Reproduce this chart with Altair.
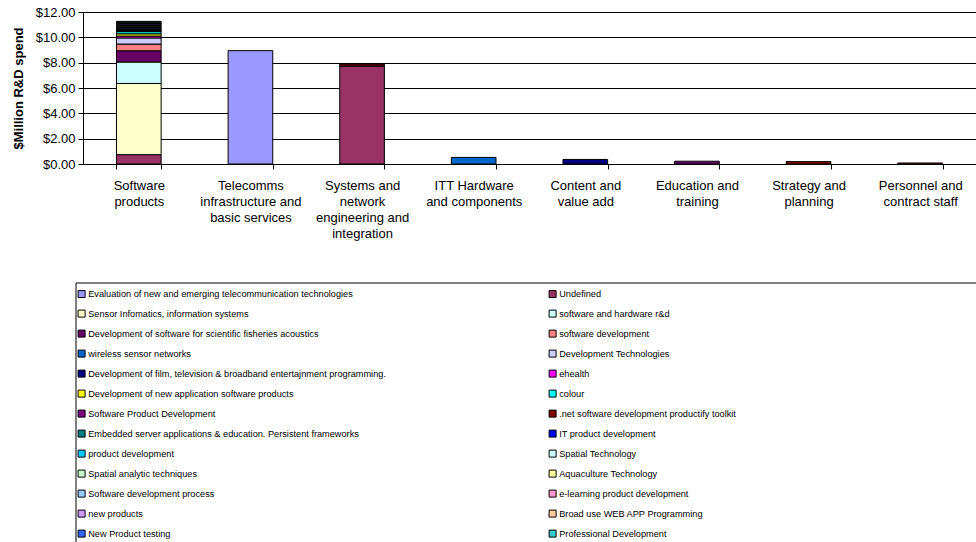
import json
import altair as alt
import pandas as pd

categories = [
    "Software products",
    "Telecomms infrastructure and basic services",
    "Systems and network engineering and integration",
    "ITT Hardware and components",
    "Content and value add",
    "Education and training",
    "Strategy and planning",
    "Personnel and contract staff",
]
category_lines = [
    ["Software", "products"],
    ["Telecomms", "infrastructure and", "basic services"],
    ["Systems and", "network", "engineering and", "integration"],
    ["ITT Hardware", "and components"],
    ["Content and", "value add"],
    ["Education and", "training"],
    ["Strategy and", "planning"],
    ["Personnel and", "contract staff"],
]

series = [
    "Evaluation of new and emerging telecommunication technologies",
    "Undefined",
    "Sensor Infomatics, information systems",
    "software and hardware r&d",
    "Development of software for scientific fisheries acoustics",
    "software development",
    "wireless sensor networks",
    "Development Technologies",
    "Development of film, television & broadband entertajnment programming.",
    "ehealth",
    "Development of new application software products",
    "colour",
    "Software Product Development",
    ".net software development productify toolkit",
    "Embedded server applications & education. Persistent frameworks",
    "IT product development",
    "product development",
    "Spatial Technology",
    "Spatial analytic techniques",
    "Aquaculture Technology",
    "Software development process",
    "e-learning product development",
    "new products",
    "Broad use WEB APP Programming",
    "New Product testing",
    "Professional Development",
]
colors = [
    "#9999FF", "#993366", "#FFFFCC", "#CCFFFF", "#660066", "#FF8080",
    "#0066CC", "#CCCCFF", "#000080", "#FF00FF", "#FFFF00", "#00FFFF",
    "#800080", "#800000", "#008080", "#0000FF", "#00CCFF", "#CCFFFF",
    "#CCFFCC", "#FFFF99", "#99CCFF", "#FF99CC", "#CC99FF", "#FFCC99",
    "#3366FF", "#33CCCC",
]

# values per category, in series order ($ million)
software_products = [0, 0.74, 5.62, 1.69, 0.89, 0.53, 0, 0.48, 0, 0.15, 0.18, 0.17,
                     0.07, 0.08, 0.06, 0.06, 0.06, 0.05, 0.05, 0.05, 0.05, 0.06,
                     0.06, 0.05, 0.05, 0.06]
telecomms = [8.95] + [0] * 25
systems = [0, 7.73] + [0] * 11 + [0.16] + [0] * 12
itt_hardware = [0] * 6 + [0.52] + [0] * 19
content = [0] * 8 + [0.36] + [0] * 17
education = [0] * 4 + [0.22] + [0] * 21
strategy = [0] * 13 + [0.19] + [0] * 12
personnel = [0] * 13 + [0.08] + [0] * 12

all_values = [software_products, telecomms, systems, itt_hardware, content,
              education, strategy, personnel]

rows = []
for cat, vals in zip(categories, all_values):
    for j, (s, v) in enumerate(zip(series, vals)):
        if v > 0:
            rows.append({"category": cat, "series": s, "value": v, "order": j})
df = pd.DataFrame(rows)

label_map = json.dumps(dict(zip(categories, category_lines)))

FONT = "Liberation Sans"

bars = alt.Chart(df).mark_bar(stroke="black", strokeWidth=1).encode(
    x=alt.X(
        "category:N",
        sort=categories,
        scale=alt.Scale(paddingInner=0.6, paddingOuter=0.3),
        axis=alt.Axis(
            title=None, labelAngle=0, labelExpr=label_map + "[datum.label]",
            labelFontSize=13, labelLineHeight=16, labelColor="black",
            labelPadding=10, labelBaseline="top", tickBand="extent", ticks=True,
            tickSize=5, tickColor="black", domainColor="black", grid=False,
            labelLimit=300,
        ),
    ),
    y=alt.Y(
        "value:Q",
        stack="zero",
        scale=alt.Scale(domain=[0, 12], nice=False),
        axis=alt.Axis(
            title="$Million R&D spend", format="$,.2f",
            values=[0, 2, 4, 6, 8, 10, 12], grid=True, gridColor="black",
            gridOpacity=1, tickColor="black", tickSize=5, domainColor="black",
            labelFontSize=13, labelColor="black", labelPadding=3,
            titleFontSize=13, titleFontWeight="bold", titleColor="black",
            titlePadding=10,
        ),
    ),
    color=alt.Color(
        "series:N",
        scale=alt.Scale(domain=series, range=colors),
        legend=alt.Legend(
            title=None, orient="none", legendX=-6, legendY=277, columns=2,
            direction="horizontal",
            columnPadding=161, rowPadding=8, symbolType="square",
            symbolSize=49, symbolStrokeColor="black", symbolStrokeWidth=1,
            symbolOpacity=1, labelFontSize=9.2, labelColor="black",
            labelLimit=600, labelOffset=2,
        ),
    ),
    order=alt.Order("order:Q", sort="ascending"),
)

frame = alt.Chart(alt.Data(values=[{}])).mark_rect(
    fill="white", stroke="black", strokeWidth=1
).encode(
    x=alt.value(-7), x2=alt.value(1000), y=alt.value(271), y2=alt.value(800)
)

chart = alt.layer(frame, bars).properties(
    width=893,
    height=152,
    autosize=alt.AutoSizeParams(type="none"),
    padding={"left": 83, "top": 12, "right": 0, "bottom": 378},
).configure(font=FONT).configure_view(strokeWidth=0)

chart.save("out.html", embed_options={"renderer": "svg", "actions": False})
